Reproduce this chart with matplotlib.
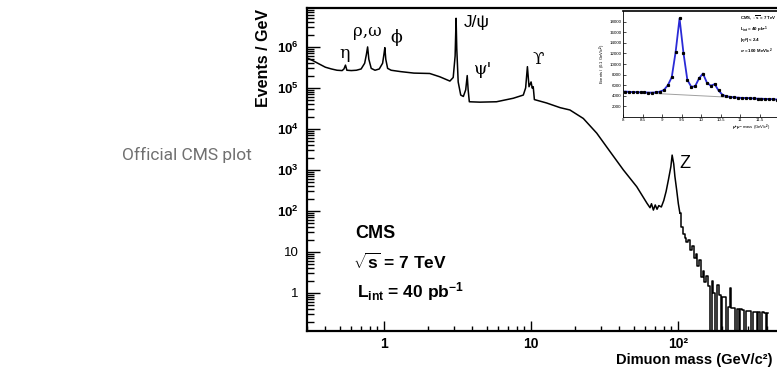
import matplotlib
matplotlib.use("Agg")
import matplotlib.pyplot as plt
from matplotlib.ticker import LogLocator, NullFormatter, FixedFormatter, FixedLocator

plt.rcParams['font.family'] = ['Liberation Sans', 'DejaVu Sans']
plt.rcParams['mathtext.fontset'] = 'custom'
plt.rcParams['mathtext.rm'] = 'Liberation Sans:bold'
plt.rcParams['mathtext.it'] = 'Liberation Sans:bold:italic'
plt.rcParams['mathtext.bf'] = 'Liberation Sans:bold'

# ---------------- data: dimuon spectrum (smooth part) ----------------
mass_main = [0.30, 0.33, 0.36, 0.40, 0.44, 0.48, 0.52, 0.535, 0.548, 0.56, 0.60,
             0.65, 0.70, 0.74, 0.76, 0.775, 0.79, 0.82, 0.87, 0.93, 0.98, 1.00,
             1.015, 1.03, 1.06, 1.12, 1.3, 1.6, 2.05, 2.4, 2.81, 2.96, 3.05,
             3.097, 3.13, 3.2, 3.33, 3.47, 3.6, 3.686, 3.74, 3.81, 4.5, 5.83,
             7.58, 8.87, 9.2, 9.46, 9.7, 10.02, 10.2, 10.36, 10.55, 12.76,
             15.8, 18.4, 22.7, 28.0, 34.5, 42.5, 52.4, 61.5, 64.5, 66, 68, 70,
             72, 74, 77, 80, 83, 86, 89.4, 91.2, 93.5, 95.2, 97.9, 100.5, 103.0]
events_main = [5.4e5, 4.6e5, 3.9e5, 3.2e5, 2.9e5, 2.7e5, 2.65e5, 2.9e5, 3.6e5, 2.7e5, 2.65e5,
               2.7e5, 2.9e5, 4.0e5, 6.5e5, 1.0e6, 5.0e5, 3.0e5, 2.7e5, 2.9e5, 4.0e5, 6.5e5,
               9.6e5, 5.0e5, 3.0e5, 2.7e5, 2.5e5, 2.3e5, 2.25e5, 1.87e5, 1.47e5, 1.8e5, 6.0e5,
               5.0e6, 9.0e5, 1.4e5, 6.7e4, 6.2e4, 9.0e4, 2.0e5, 9.0e4, 4.6e4, 4.5e4, 4.6e4,
               5.6e4, 6.7e4, 1.0e5, 3.3e5, 1.07e5, 1.4e5, 9.9e4, 1.07e5, 5.2e4, 4.3e4,
               3.3e4, 2.9e4, 1.8e4, 7.9e3, 2.8e3, 1.0e3, 390, 154, 120, 150, 105, 140,
               110, 135, 125, 180, 300, 570, 1200, 2300, 1400, 700, 325, 150, 88]

# ---------------- data: high-mass tail (histogram bins) ----------------
mass_tail = [103.0, 106.3, 109.2, 112.2, 115.7, 119.3, 122.6, 126.1, 129.6, 133.4,
             137.2, 141.1, 145.1, 149.2, 153.5, 157.9, 162.4, 167.0, 171.7, 176.6,
             181.7, 186.9, 192.2, 197.7, 203.3, 209.1, 215.1, 221.2, 227.5, 234.0,
             240.7, 247.6, 254.6, 261.9, 269.4, 277.0, 284.9, 293.1, 301.4, 310.0,
             318.9, 328.0, 337.3, 347.0, 356.9, 367.0, 377.5, 388.3, 399.4, 410.8]
events_tail = [88, 40, 28, 22, 17, 20, 11, 14, 7, 9,
               4.5, 6.5, 2.5, 3.5, 1.8, 2.6, 1.5, 0, 2.0, 1.0,
               0, 1.6, 0.9, 0, 0.8, 0.8, 0, 0.45, 1.3, 0.42,
               0.42, 0, 0.4, 0, 0.4, 0.38, 0, 0.37, 0.37, 0.36,
               0, 0.35, 0.35, 0, 0.34, 0, 0.34, 0.33, 0, 0.33]

# ---------------- data: inset (Upsilon region) ----------------
inset_mass = [8.05, 8.15, 8.25, 8.35, 8.45, 8.55, 8.65, 8.75, 8.85, 8.95,
              9.05, 9.15, 9.25, 9.35, 9.45, 9.55, 9.65, 9.75, 9.85, 9.95,
              10.05, 10.15, 10.25, 10.35, 10.45, 10.55, 10.65, 10.75, 10.85, 10.95,
              11.05, 11.15, 11.25, 11.35, 11.45, 11.55, 11.65, 11.75, 11.85, 11.95]
inset_events = [4800, 4750, 4700, 4700, 4650, 4650, 4600, 4600, 4650, 4800,
                5100, 6000, 7500, 12300, 18600, 12100, 7000, 5700, 5800, 7300,
                8200, 6500, 5900, 6200, 5000, 4200, 3900, 3800, 3700, 3650,
                3600, 3600, 3550, 3500, 3450, 3450, 3400, 3400, 3350, 3300]
inset_bkg_mass = [8.0, 10.0, 12.0]
inset_bkg = [4750, 4000, 3250]

# ---------------- figure ----------------
W, H = 777, 372
fig = plt.figure(figsize=(W / 100, H / 100), dpi=100)

def fx(px):
    return px / W

def fy(py):
    return 1 - py / H

ax = fig.add_axes([fx(307), fy(331), fx(779) - fx(307), fy(8) - fy(331)])
ax.set_xscale('log')
ax.set_yscale('log', nonpositive='clip')
ax.plot(mass_main, events_main, color='black', lw=1.1, solid_joinstyle='round')
ax.step(mass_tail, events_tail, where='mid', color='black', lw=1.1)
ax.set_xlim(0.3, 486)
ax.set_ylim(0.118, 8.9e6)

for s in ax.spines.values():
    s.set_linewidth(1.6)

ax.set_xticks([1, 10, 100], labels=['1', '10', '10²'], fontweight='bold')
ax.xaxis.set_minor_locator(LogLocator(base=10, subs=[2, 3, 4, 5, 6, 7, 8, 9], numticks=20))
ax.xaxis.set_minor_formatter(NullFormatter())
yt = [1, 10, 100, 1e3, 1e4, 1e5, 1e6]
ax.yaxis.set_major_locator(FixedLocator(yt))
ax.yaxis.set_major_formatter(FixedFormatter(['1', '10', '$10^{2}$', '$10^{3}$', '$10^{4}$', '$10^{5}$', '$10^{6}$']))
ax.yaxis.set_minor_locator(LogLocator(base=10, subs=[2, 3, 4, 5, 6, 7, 8, 9], numticks=20))
ax.yaxis.set_minor_formatter(NullFormatter())
ax.tick_params(axis='x', which='major', direction='in', length=7, width=1, pad=4, labelsize=10)
ax.tick_params(axis='x', which='minor', direction='in', length=3.5, width=1)
ax.tick_params(axis='y', which='major', direction='in', length=9.5, width=1, pad=6, labelsize=9.5)
ax.tick_params(axis='y', which='minor', direction='in', length=5, width=1)

# axis titles
fig.text(fx(772), fy(360), 'Dimuon mass (GeV/c²)', ha='right', va='center',
         fontsize=10.5, fontweight='bold')
fig.text(fx(264), fy(9), 'Events / GeV', ha='center', va='top', rotation=90,
         fontsize=11.5, fontweight='bold')

# CMS labels
fig.text(fx(355), fy(233), 'CMS', ha='left', va='center', fontsize=13, fontweight='bold')
fig.text(fx(353), fy(262), r'$\sqrt{\mathrm{s}}$ = 7 TeV', ha='left', va='center', fontsize=12.5, fontweight='bold')
fig.text(fx(357), fy(292), r'L$_{\mathrm{int}}$ = 40 pb$^{-1}$', ha='left', va='center', fontsize=12.5, fontweight='bold')

# resonance labels
serif = ['DejaVu Serif']
fig.text(fx(345), fy(53), 'η', ha='center', va='center', fontsize=12.5, family=serif)
fig.text(fx(367), fy(32), 'ρ,ω', ha='center', va='center', fontsize=12, family=serif)
fig.text(fx(396), fy(38), 'ϕ', ha='center', va='center', fontsize=12.5, family=serif)
fig.text(fx(477), fy(22), 'J/ψ', ha='center', va='center', fontsize=12.5, family=['Liberation Sans', 'DejaVu Sans'])
fig.text(fx(483), fy(70), "ψ'", ha='center', va='center', fontsize=12.5, family=serif)
fig.text(fx(538), fy(60), 'ϒ', ha='center', va='center', fontsize=12, family=serif)
fig.text(fx(685), fy(163), 'Z', ha='center', va='center', fontsize=13, family=['Liberation Sans'])

# side caption
fig.text(fx(252), fy(155), 'Official CMS plot', ha='right', va='center', fontsize=12.5,
         color='#707070', family=['Roboto'])

# ---------------- inset ----------------
ai = fig.add_axes([fx(623), fy(117), fx(779) - fx(623), fy(11) - fy(117)])
ai.plot(inset_bkg_mass, inset_bkg, color='#a0a0a0', lw=0.7)
ai.plot(inset_mass, inset_events, color='#2a2ad6', lw=1.3)
ai.errorbar(inset_mass, inset_events, yerr=[150] * len(inset_events), fmt='s', color='black',
            ms=1.3, elinewidth=0.5, capsize=0)
ai.set_xlim(8, 12)
ai.set_ylim(0, 20000)
ai.set_xticks([8, 8.5, 9, 9.5, 10, 10.5, 11, 11.5, 12])
ai.set_xticklabels(['8', '8.5', '9', '9.5', '10', '10.5', '11', '11.5', ''])
ai.set_yticks([2000, 4000, 6000, 8000, 10000, 12000, 14000, 16000, 18000])
ai.set_yticklabels(['2000', '4000', '6000', '8000', '10000', '12000', '14000', '16000', '18000'])
ai.tick_params(direction='in', length=2, width=0.5, labelsize=3.2, pad=1)
for s in ai.spines.values():
    s.set_linewidth(0.6)
ai.spines['top'].set_linewidth(1.2)
ai.set_ylabel('Events / (0.1 GeV/c$^{2}$)', fontsize=3, labelpad=1)
fig.text(fx(771), fy(128), r'$\mu^{+}\mu^{-}$ mass (GeV/c$^{2}$)', ha='right', va='center', fontsize=3)
ai.text(0.75, 0.93, r'CMS, $\sqrt{\mathrm{s}}$ = 7 TeV', transform=ai.transAxes, ha='left', va='center', fontsize=3.2, fontweight='bold')
ai.text(0.75, 0.82, r'L$_{\mathrm{int}}$ = 40 pb$^{-1}$', transform=ai.transAxes, ha='left', va='center', fontsize=3.2, fontweight='bold')
ai.text(0.75, 0.72, r'|$\eta^{\mu}$| < 2.4', transform=ai.transAxes, ha='left', va='center', fontsize=3.2, fontweight='bold')
ai.text(0.75, 0.62, r'$\sigma$ = 100 MeV/c$^{2}$', transform=ai.transAxes, ha='left', va='center', fontsize=3.2, fontweight='bold')

fig.savefig('out.png', dpi=100)
